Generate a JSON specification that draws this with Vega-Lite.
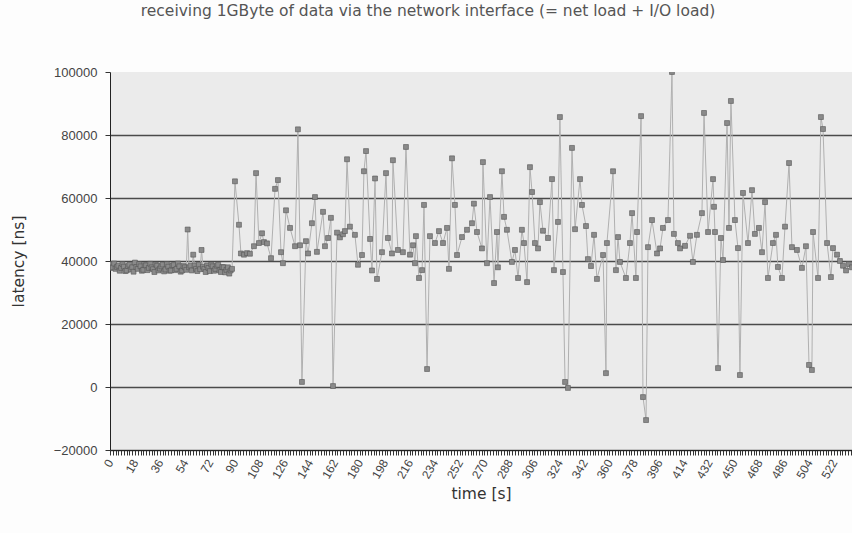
{
  "$schema": "https://vega.github.io/schema/vega-lite/v6.json",
  "width": 742,
  "height": 378,
  "autosize": {"type": "none"},
  "padding": {"left": 110, "top": 72, "right": 0, "bottom": 83},
  "background": "#fdfdfd",
  "config": {
    "font": "Liberation Sans",
    "view": {"fill": "#ebebeb", "stroke": null}
  },
  "title": {
    "text": "receiving 1GByte of data via the network interface (= net load + I/O load)",
    "font": "DejaVu Sans",
    "fontSize": 15.5,
    "fontWeight": "normal",
    "color": "#555555",
    "anchor": "middle",
    "dx": -53,
    "offset": 47
  },
  "data": {
    "values": [
      {"t": 0, "v": 39000}, {"t": 1, "v": 37800}, {"t": 2, "v": 38000}, {"t": 3, "v": 39200}, {"t": 4, "v": 37500}, {"t": 5, "v": 38100}, {"t": 6, "v": 38500},
      {"t": 7, "v": 36900}, {"t": 8, "v": 37800}, {"t": 9, "v": 39000}, {"t": 10, "v": 38200}, {"t": 11, "v": 36800}, {"t": 12, "v": 37000}, {"t": 13, "v": 38400}, {"t": 14, "v": 38800},
      {"t": 15, "v": 37300}, {"t": 16, "v": 38000}, {"t": 17, "v": 36600}, {"t": 18, "v": 39500}, {"t": 19, "v": 38100}, {"t": 20, "v": 37500}, {"t": 21, "v": 39000}, {"t": 22, "v": 38300},
      {"t": 23, "v": 36900}, {"t": 24, "v": 37200}, {"t": 25, "v": 38700}, {"t": 26, "v": 38600}, {"t": 27, "v": 37100}, {"t": 28, "v": 37800}, {"t": 29, "v": 39100}, {"t": 30, "v": 38000},
      {"t": 31, "v": 37400}, {"t": 32, "v": 36500}, {"t": 33, "v": 38900}, {"t": 34, "v": 38500}, {"t": 35, "v": 37000}, {"t": 36, "v": 37600}, {"t": 37, "v": 38300}, {"t": 38, "v": 38900},
      {"t": 39, "v": 36700}, {"t": 40, "v": 37300}, {"t": 41, "v": 39000}, {"t": 42, "v": 38200}, {"t": 43, "v": 36900}, {"t": 44, "v": 37000}, {"t": 45, "v": 38600}, {"t": 46, "v": 38700},
      {"t": 47, "v": 37100}, {"t": 48, "v": 37500}, {"t": 49, "v": 39200}, {"t": 50, "v": 38300}, {"t": 51, "v": 36600}, {"t": 52, "v": 37000}, {"t": 53, "v": 38400}, {"t": 54, "v": 38000},
      {"t": 55, "v": 37200}, {"t": 56, "v": 50000}, {"t": 57, "v": 38000}, {"t": 58, "v": 38500}, {"t": 59, "v": 37000}, {"t": 60, "v": 42000}, {"t": 61, "v": 38600}, {"t": 62, "v": 37500},
      {"t": 63, "v": 36800}, {"t": 64, "v": 38800}, {"t": 65, "v": 37400}, {"t": 66, "v": 43500}, {"t": 67, "v": 38200}, {"t": 68, "v": 37500}, {"t": 69, "v": 36500}, {"t": 70, "v": 38600},
      {"t": 71, "v": 37800}, {"t": 72, "v": 36800}, {"t": 73, "v": 38900}, {"t": 74, "v": 38300}, {"t": 75, "v": 36900}, {"t": 76, "v": 37500}, {"t": 77, "v": 38500}, {"t": 78, "v": 38800},
      {"t": 79, "v": 37000}, {"t": 80, "v": 36500}, {"t": 81, "v": 38100}, {"t": 82, "v": 38000}, {"t": 83, "v": 36400}, {"t": 84, "v": 37200}, {"t": 85, "v": 38000}, {"t": 86, "v": 36000},
      {"t": 87, "v": 37000}, {"t": 88, "v": 37500},
      {"t": 90.1, "v": 65300}, {"t": 93.0, "v": 51500}, {"t": 94.4, "v": 42400}, {"t": 96.6, "v": 42000},
      {"t": 98.8, "v": 42500}, {"t": 100.9, "v": 42300}, {"t": 103.8, "v": 44700}, {"t": 105.3, "v": 67900},
      {"t": 107.4, "v": 45700}, {"t": 109.6, "v": 48800}, {"t": 111.0, "v": 46000}, {"t": 113.2, "v": 45600},
      {"t": 116.1, "v": 40900}, {"t": 119.0, "v": 62900}, {"t": 121.1, "v": 65700}, {"t": 123.3, "v": 42800},
      {"t": 124.7, "v": 39300}, {"t": 126.9, "v": 56100}, {"t": 129.8, "v": 50500}, {"t": 133.4, "v": 44700},
      {"t": 135.5, "v": 81800}, {"t": 137.0, "v": 45000}, {"t": 138.4, "v": 1600}, {"t": 141.3, "v": 46300},
      {"t": 142.8, "v": 42400}, {"t": 145.6, "v": 52000}, {"t": 147.8, "v": 60300}, {"t": 149.2, "v": 42900},
      {"t": 153.6, "v": 55600}, {"t": 155.0, "v": 44700}, {"t": 157.2, "v": 47300}, {"t": 159.3, "v": 53700},
      {"t": 160.8, "v": 300}, {"t": 163.7, "v": 49000}, {"t": 165.8, "v": 47500}, {"t": 168.0, "v": 48500},
      {"t": 169.4, "v": 49500}, {"t": 170.9, "v": 72300}, {"t": 173.0, "v": 50900}, {"t": 176.6, "v": 48300},
      {"t": 178.8, "v": 38800}, {"t": 181.7, "v": 41900}, {"t": 183.1, "v": 68500}, {"t": 184.6, "v": 74900},
      {"t": 187.5, "v": 47000}, {"t": 188.9, "v": 37000}, {"t": 191.1, "v": 66200}, {"t": 192.5, "v": 34300},
      {"t": 196.1, "v": 42800}, {"t": 199.0, "v": 67900}, {"t": 200.4, "v": 47300}, {"t": 203.3, "v": 42400},
      {"t": 204.0, "v": 72000}, {"t": 207.6, "v": 43500}, {"t": 211.2, "v": 42800}, {"t": 213.4, "v": 76200},
      {"t": 216.3, "v": 42000}, {"t": 218.5, "v": 45000}, {"t": 219.9, "v": 39300}, {"t": 220.6, "v": 47900},
      {"t": 222.8, "v": 34600}, {"t": 225.0, "v": 37100}, {"t": 226.4, "v": 57800}, {"t": 228.6, "v": 5700},
      {"t": 230.7, "v": 47900}, {"t": 234.3, "v": 45700}, {"t": 237.2, "v": 49500}, {"t": 240.1, "v": 45700},
      {"t": 243.0, "v": 50500}, {"t": 244.4, "v": 37500}, {"t": 246.6, "v": 72600}, {"t": 248.7, "v": 57800},
      {"t": 250.2, "v": 41900}, {"t": 253.8, "v": 47600}, {"t": 257.4, "v": 49900}, {"t": 261.0, "v": 52000},
      {"t": 262.4, "v": 58200}, {"t": 264.6, "v": 49200}, {"t": 268.2, "v": 44000}, {"t": 268.9, "v": 71400},
      {"t": 271.8, "v": 39300}, {"t": 274.0, "v": 60300}, {"t": 276.9, "v": 33000}, {"t": 279.0, "v": 49200},
      {"t": 279.7, "v": 38000}, {"t": 282.6, "v": 68500}, {"t": 284.1, "v": 54000}, {"t": 286.2, "v": 49900},
      {"t": 289.8, "v": 39700}, {"t": 292.0, "v": 43500}, {"t": 294.2, "v": 34600}, {"t": 297.0, "v": 49900},
      {"t": 298.5, "v": 45700}, {"t": 300.7, "v": 33300}, {"t": 302.8, "v": 69800}, {"t": 304.3, "v": 61900},
      {"t": 306.4, "v": 45700}, {"t": 308.6, "v": 44000}, {"t": 310.0, "v": 58700}, {"t": 312.2, "v": 49600},
      {"t": 315.8, "v": 47300}, {"t": 318.7, "v": 66000}, {"t": 320.1, "v": 37100}, {"t": 323.0, "v": 52400},
      {"t": 324.4, "v": 85700}, {"t": 326.6, "v": 36500}, {"t": 328.1, "v": 1600}, {"t": 330.2, "v": -300},
      {"t": 333.1, "v": 75900}, {"t": 335.3, "v": 50100}, {"t": 338.9, "v": 66000}, {"t": 340.3, "v": 57800},
      {"t": 343.2, "v": 51100}, {"t": 344.6, "v": 40600}, {"t": 346.8, "v": 38400}, {"t": 349.0, "v": 48300},
      {"t": 351.1, "v": 34300}, {"t": 355.5, "v": 41900}, {"t": 357.6, "v": 4400}, {"t": 358.3, "v": 45700},
      {"t": 362.7, "v": 68500}, {"t": 364.8, "v": 37100}, {"t": 366.3, "v": 47600}, {"t": 367.7, "v": 39700},
      {"t": 372.0, "v": 34600}, {"t": 374.9, "v": 45700}, {"t": 376.4, "v": 55200}, {"t": 379.2, "v": 34600},
      {"t": 380.0, "v": 49200}, {"t": 382.9, "v": 86000}, {"t": 384.3, "v": -3200}, {"t": 386.5, "v": -10500},
      {"t": 387.9, "v": 44400}, {"t": 390.8, "v": 53000}, {"t": 394.4, "v": 42400}, {"t": 396.6, "v": 44000},
      {"t": 398.7, "v": 50500}, {"t": 402.3, "v": 53000}, {"t": 405.2, "v": 100000}, {"t": 406.6, "v": 48600},
      {"t": 409.5, "v": 45700}, {"t": 411.0, "v": 44000}, {"t": 414.6, "v": 44800}, {"t": 418.2, "v": 48000},
      {"t": 420.3, "v": 39700}, {"t": 423.2, "v": 48300}, {"t": 426.8, "v": 55200}, {"t": 428.3, "v": 87000},
      {"t": 431.2, "v": 49200}, {"t": 434.8, "v": 66000}, {"t": 435.5, "v": 57200}, {"t": 436.2, "v": 49200},
      {"t": 438.4, "v": 6000}, {"t": 440.5, "v": 47300}, {"t": 442.0, "v": 40300}, {"t": 444.9, "v": 83800},
      {"t": 446.3, "v": 50500}, {"t": 447.7, "v": 90800}, {"t": 450.6, "v": 53000}, {"t": 452.8, "v": 44100},
      {"t": 454.2, "v": 3800}, {"t": 456.4, "v": 61600}, {"t": 460.0, "v": 45700}, {"t": 462.9, "v": 62500},
      {"t": 465.0, "v": 48600}, {"t": 467.9, "v": 50500}, {"t": 470.1, "v": 42800}, {"t": 472.3, "v": 58700},
      {"t": 474.4, "v": 34600}, {"t": 478.0, "v": 45700}, {"t": 480.2, "v": 48300}, {"t": 481.6, "v": 38100},
      {"t": 484.5, "v": 34600}, {"t": 486.7, "v": 50900}, {"t": 489.6, "v": 71100}, {"t": 491.7, "v": 44400},
      {"t": 495.3, "v": 43500}, {"t": 498.9, "v": 37800}, {"t": 501.8, "v": 44700}, {"t": 504.0, "v": 7000},
      {"t": 506.1, "v": 5400}, {"t": 506.9, "v": 49200}, {"t": 510.5, "v": 34600}, {"t": 512.6, "v": 85700},
      {"t": 514.1, "v": 81900}, {"t": 517.0, "v": 45700}, {"t": 519.8, "v": 34900}, {"t": 521.3, "v": 44100},
      {"t": 524.2, "v": 42000}, {"t": 526.3, "v": 40000}, {"t": 528.5, "v": 38500}, {"t": 530.7, "v": 37000},
      {"t": 532.8, "v": 39000}, {"t": 535.0, "v": 38000}
    ]
  },
  "encoding": {
    "x": {
      "field": "t",
      "type": "quantitative",
      "scale": {"domain": [0, 535], "nice": false, "zero": false},
      "axis": {
        "title": "time [s]",
        "titleFont": "DejaVu Sans",
        "titleFontSize": 15.5,
        "titleFontWeight": "normal",
        "titleColor": "#333333",
        "titleX": 371,
        "titleY": 43,
        "titleBaseline": "middle",
        "tickCount": 268,
        "labelExpr": "datum.value % 18 == 0 ? datum.label : ''",
        "labelAngle": -60,
        "labelFontSize": 12,
        "labelColor": "#444444",
        "labelOverlap": false,
        "labelBound": false,
        "labelFlush": false,
        "labelPadding": 5,
        "tickSize": 5,
        "tickColor": "#333333",
        "domainColor": "#222222",
        "grid": false
      }
    },
    "y": {
      "field": "v",
      "type": "quantitative",
      "scale": {"domain": [-20000, 100000], "nice": false},
      "axis": {
        "title": "latency [ns]",
        "titleFont": "DejaVu Sans",
        "titleFontSize": 15.5,
        "titleFontWeight": "normal",
        "titleColor": "#333333",
        "titleX": -92,
        "titleY": 189,
        "titleAngle": -90,
        "titleAlign": "center",
        "titleBaseline": "middle",
        "values": [-20000, 0, 20000, 40000, 60000, 80000, 100000],
        "format": "d",
        "labelFontSize": 13,
        "labelColor": "#444444",
        "labelPadding": 8,
        "tickSize": 5,
        "tickColor": "#333333",
        "domainColor": "#222222",
        "grid": true,
        "gridColor": {"condition": {"test": "datum.value == 100000", "value": "transparent"}, "value": "#4a4a4a"},
        "gridWidth": 1.5
      }
    }
  },
  "layer": [
    {"mark": {"type": "line", "color": "#b0b0b0", "strokeWidth": 1, "clip": true}},
    {"mark": {"type": "point", "shape": "square", "filled": true, "size": 24, "color": "#8a8a8a", "stroke": "#555555", "strokeWidth": 0.6, "opacity": 1, "clip": true}}
  ]
}
